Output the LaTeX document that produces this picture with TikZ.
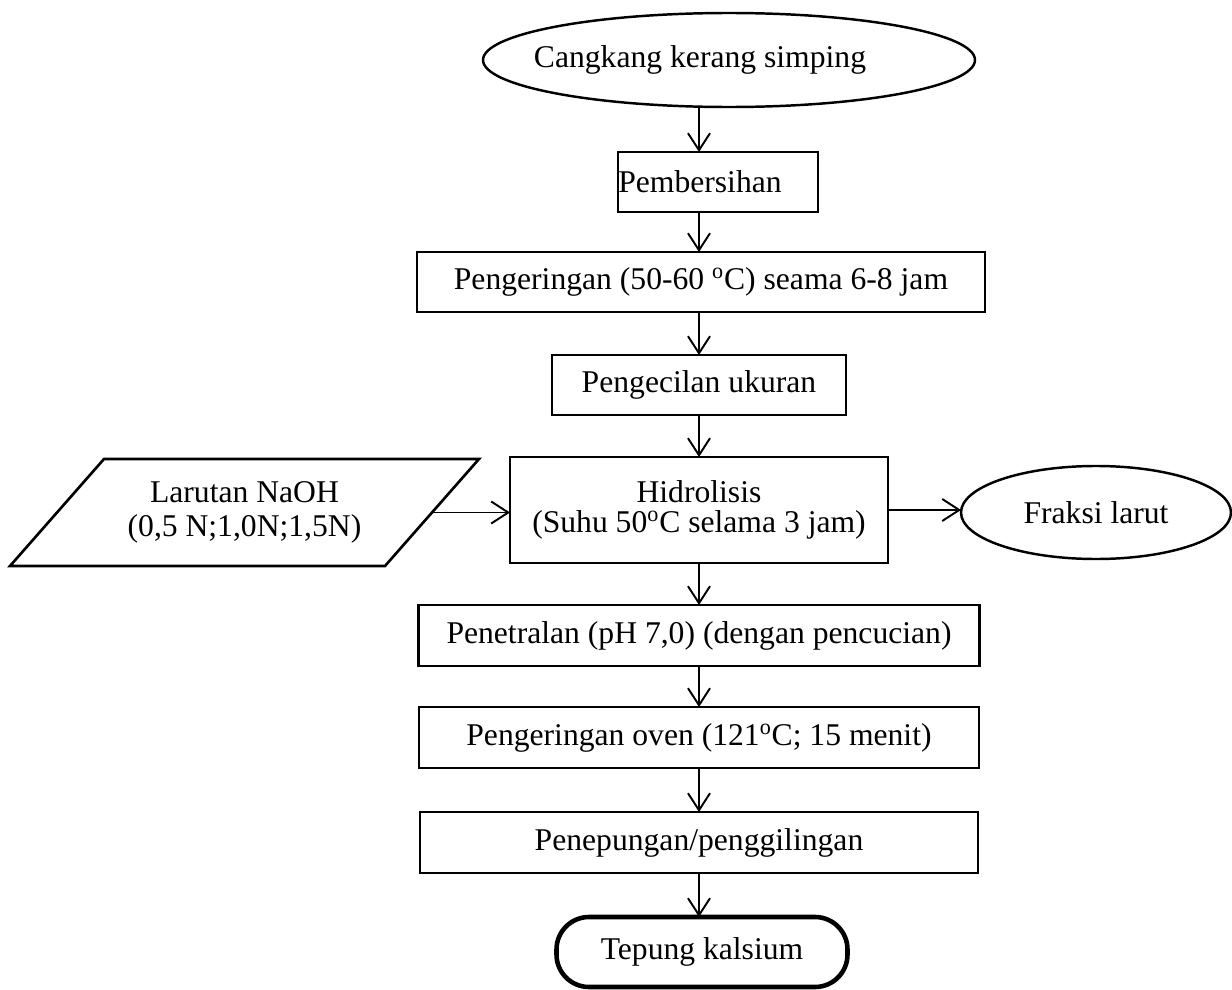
\documentclass[tikz,border=0pt]{standalone}
\usepackage{fontspec}
\setmainfont{Liberation Serif}
\usetikzlibrary{arrows.meta,positioning,shapes.geometric}
\newcommand\flowfont{\fontsize{18}{17}\selectfont}

\begin{document}
\begin{tikzpicture}
    [every node/.style={font=\flowfont,align=center,inner sep=0pt,outer sep=0pt},
    box/.style={draw,line width=1.5pt,minimum height=1.2cm},
    terminal/.style={draw,ellipse,line width=1.4pt},
    stopbox/.style={draw,rounded corners=0.65cm,line width=2.6pt,minimum width=5.82cm,minimum height=1.4cm},
    post/.style={-{Straight Barb[length=3.4mm,width=4.4mm]},line width=1.1pt}]
    \useasboundingbox (0,0) rectangle (24.64,-19.8);
    \node[terminal,minimum width=9.84cm,minimum height=1.88cm] (start) at (14.58,-1.2) {\hspace*{-1.16cm}Cangkang kerang simping};
    \node[box,minimum width=4cm] (clean) [below=0.9cm of start,xshift=-0.22cm] {\hspace*{-0.72cm}Pembersihan};
    \node[box,minimum width=11.36cm] (dry) [below=0.8cm of clean,xshift=-0.34cm] {Pengeringan (50-60 \textsuperscript{o}C) seama 6-8 jam};
    \node[box,minimum width=5.88cm] (size) [below=0.86cm of dry,xshift=-0.04cm] {Pengecilan ukuran};
    \node[box,minimum width=7.56cm,minimum height=2.12cm] (hydro) [below=0.84cm of size] {Hidrolisis\\(Suhu 50\textsuperscript{o}C selama 3 jam)};
    \node[box,minimum width=11.22cm,minimum height=1.22cm] (neutral) [below=0.84cm of hydro] {Penetralan (pH 7,0) (dengan pencucian)};
    \node[box,minimum width=11.2cm,minimum height=1.22cm] (oven) [below=0.82cm of neutral] {Pengeringan oven (121\textsuperscript{o}C; 15 menit)};
    \node[box,minimum width=11.16cm,minimum height=1.22cm] (mill) [below=0.88cm of oven] {Penepungan/penggilingan};
    \node[stopbox] (flour) [below=0.88cm of mill,xshift=0.06cm] {Tepung kalsium};
    % side branches of the hydrolysis step
    \node[terminal,minimum width=5.4cm,minimum height=1.86cm] (fraction) [right=1.46cm of hydro,yshift=-0.05cm] {Fraksi larut};
    \node[minimum width=9.38cm,minimum height=2.14cm] (naoh) [left=0.62cm of hydro,yshift=-0.05cm] {Larutan NaOH\\[2pt](0,5 N;1,0N;1,5N)};
    \draw[line width=1.5pt] (naoh.south west) -- ([xshift=1.88cm]naoh.north west) -- (naoh.north east)
        -- coordinate (naoh out) ([xshift=-1.88cm]naoh.south east) -- cycle;
    % main flow
    \draw[post] (start.south -| size.north) -- (clean.north -| size.north);
    \draw[post] (clean.south -| size.north) -- (dry.north -| size.north);
    \draw[post] (dry.south -| size.north) -- (size.north);
    \draw[post] (size) -- (hydro);
    \draw[post] (hydro) -- (neutral);
    \draw[post] (neutral) -- (oven);
    \draw[post] (oven) -- (mill);
    \draw[post] (mill.south) -- (mill.south |- flour.north);
    \draw[post] (naoh out) -- (naoh out -| hydro.west);
    \draw[post] (hydro.east) -- (hydro.east -| fraction.west);
\end{tikzpicture}
\end{document}
